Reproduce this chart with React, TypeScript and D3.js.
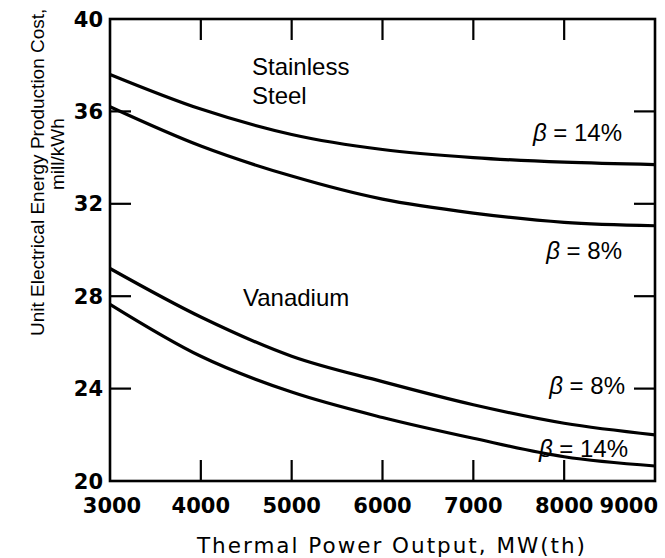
import React from "react";
import * as d3 from "d3";

const powerMW = [3000, 4000, 5000, 6000, 7000, 8000, 9000];
const stainless14 = [37.6, 36.1, 35.0, 34.35, 34.0, 33.8, 33.7];
const stainless8 = [36.2, 34.5, 33.2, 32.2, 31.6, 31.2, 31.05];
const vanadium8 = [29.2, 27.1, 25.4, 24.3, 23.3, 22.5, 22.0];
const vanadium14 = [27.65, 25.4, 23.85, 22.75, 21.85, 21.05, 20.65];

const xTicks = [3000, 4000, 5000, 6000, 7000, 8000, 9000];
const yTicks = [20, 24, 28, 32, 36, 40];

const FONT = "'Liberation Sans', Arial, Helvetica, sans-serif";
const WIDE = "'DejaVu Sans', Verdana, sans-serif";

export default function App() {
  const W = 665, H = 558;
  const left = 110, right = 655, top = 19, bottom = 481;
  const x = d3.scaleLinear().domain([3000, 9000]).range([left, right]);
  const y = d3.scaleLinear().domain([20, 40]).range([bottom, top]);

  const line = d3
    .line<number>()
    .x((_, i) => x(powerMW[i]))
    .y((d) => y(d))
    .curve(d3.curveMonotoneX);

  const series = [stainless14, stainless8, vanadium8, vanadium14];
  const innerX = xTicks.slice(1, -1);
  const innerY = yTicks.slice(1, -1);
  const tickLen = 21;

  return (
    <svg
      width={W}
      height={H}
      style={{ position: "absolute", left: 0, top: 0, background: "#fff" }}
      fontFamily={FONT}
    >
      <rect x={0} y={0} width={W} height={H} fill="#fff" />
      {series.map((s, i) => (
        <path key={i} d={line(s) || ""} fill="none" stroke="#000" strokeWidth={3.2} />
      ))}
      {/* frame */}
      <rect
        x={left}
        y={top}
        width={right - left}
        height={bottom - top}
        fill="none"
        stroke="#000"
        strokeWidth={2.6}
      />
      {/* ticks */}
      {innerX.map((t) => (
        <g key={"xt" + t}>
          <line x1={x(t)} x2={x(t)} y1={bottom} y2={bottom - tickLen} stroke="#000" strokeWidth={2.2} />
          <line x1={x(t)} x2={x(t)} y1={top} y2={top + tickLen} stroke="#000" strokeWidth={2.2} />
        </g>
      ))}
      {innerY.map((t) => (
        <g key={"yt" + t}>
          <line x1={left} x2={left + tickLen} y1={y(t)} y2={y(t)} stroke="#000" strokeWidth={2.2} />
          <line x1={right} x2={right - tickLen} y1={y(t)} y2={y(t)} stroke="#000" strokeWidth={2.2} />
        </g>
      ))}
      {/* tick labels */}
      {yTicks.map((t) => (
        <text
          key={"yl" + t}
          x={103}
          y={y(t) + 7.5}
          textAnchor="end"
          fontFamily={WIDE}
          fontSize={21}
          fontWeight="bold"
        >
          {t}
        </text>
      ))}
      {xTicks.map((t, i) => {
        const last = i === xTicks.length - 1;
        const first = i === 0;
        return (
          <text
            key={"xl" + t}
            x={last ? 658 : x(t) + (first ? 2 : 0)}
            y={513}
            textAnchor={last ? "end" : "middle"}
            fontFamily={WIDE}
            fontSize={21}
            fontWeight="bold"
          >
            {t}
          </text>
        );
      })}
      {/* axis titles */}
      <text
        x={197}
        y={553}
        fontFamily={WIDE}
        fontSize={21.5}
        textLength={388}
        lengthAdjust="spacing"
      >
        Thermal Power Output, MW(th)
      </text>
      <text transform="translate(44,336) rotate(-90)" x={0} y={0} fontSize={19}>
        Unit Electrical Energy Production Cost,
      </text>
      <text transform="translate(64,190) rotate(-90)" x={0} y={0} fontSize={19}>
        mill/kWh
      </text>
      {/* annotations */}
      <text x={252} y={75} fontSize={24}>Stainless</text>
      <text x={252} y={104} fontSize={24}>Steel</text>
      <text x={243} y={306} fontSize={24}>Vanadium</text>
      <text x={622} y={141} fontSize={24} textAnchor="end">
        <tspan fontStyle="italic">β</tspan> = 14%
      </text>
      <text x={622} y={259} fontSize={24} textAnchor="end">
        <tspan fontStyle="italic">β</tspan> = 8%
      </text>
      <text x={625} y={394} fontSize={24} textAnchor="end">
        <tspan fontStyle="italic">β</tspan> = 8%
      </text>
      <text x={628} y={457} fontSize={24} textAnchor="end">
        <tspan fontStyle="italic">β</tspan> = 14%
      </text>
    </svg>
  );
}
